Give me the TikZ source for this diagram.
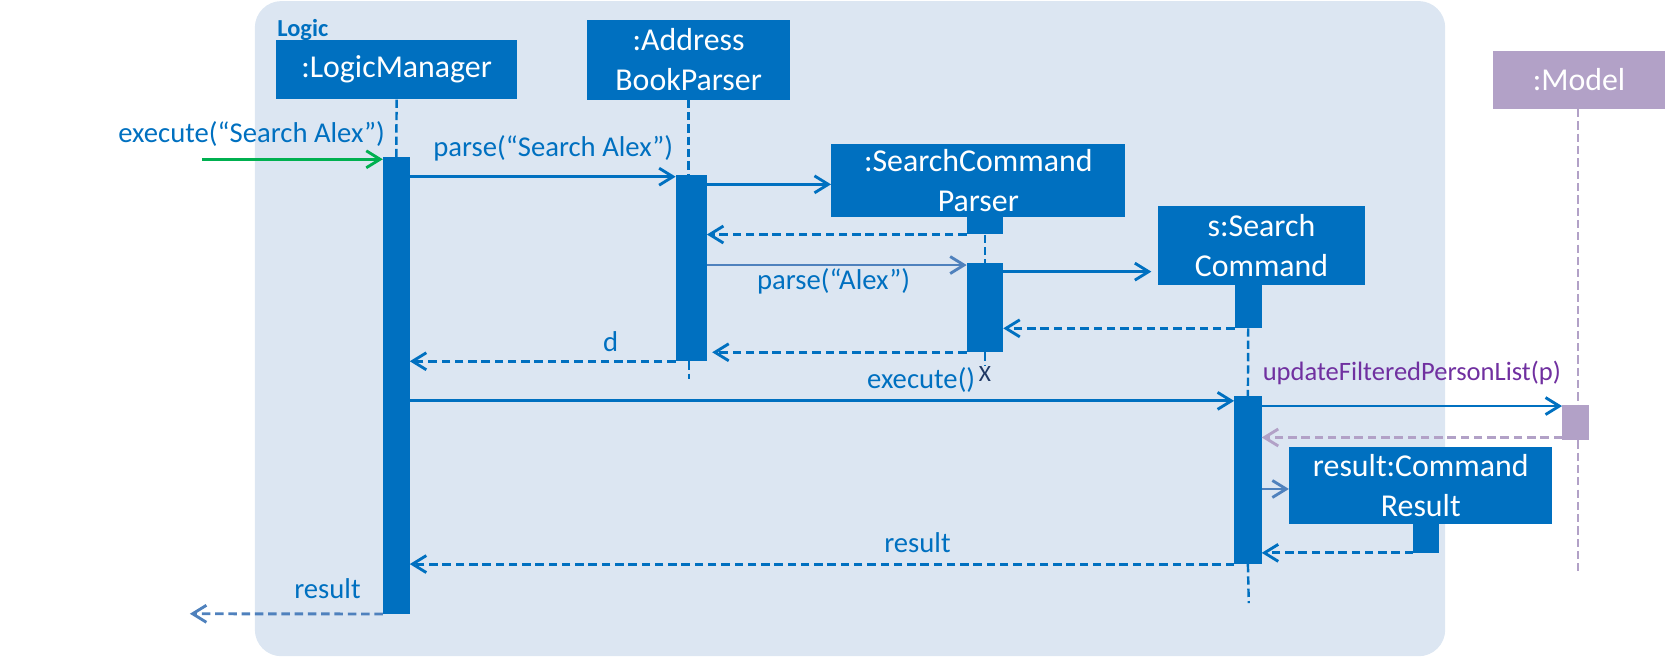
\documentclass[tikz,border=0pt]{standalone}
\usepackage{fontspec}
\setmainfont{Carlito}
\usetikzlibrary{arrows.meta}
\definecolor{lblue}{HTML}{0070C0}
\definecolor{gblue}{HTML}{4F81BD}
\definecolor{frameblue}{HTML}{DCE6F2}
\definecolor{mpurple}{HTML}{B2A1C7}
\definecolor{tpurple}{HTML}{7030A0}
\definecolor{callgreen}{HTML}{00B050}
\definecolor{xnavy}{HTML}{1F3864}

\begin{document}
\begin{tikzpicture}[x=1pt,y=-1pt,
    obj/.style={fill=lblue,text=white,inner sep=0pt,align=center,font=\fontsize{30}{37.4}\selectfont},
    act/.style={fill=lblue,inner sep=0pt},
    life/.style={draw=lblue,line width=2.3pt,dash pattern=on 7.8pt off 3.8pt},
    msg/.style={draw=lblue,line width=2.7pt,-{Straight Barb[length=13pt,width=16pt,line width=2.7pt]}},
    ret/.style={msg,dash pattern=on 8pt off 4.5pt},
    lbl/.style={text=lblue,inner sep=0pt,font=\fontsize{27}{32}\selectfont}]
    \useasboundingbox (0,0) rectangle (1568,619);

    % Logic frame
    \fill[frameblue,rounded corners=25pt] (240,1) rectangle (1361,618);
    \node[anchor=base west,text=lblue,inner sep=0pt,font=\bfseries\fontsize{23}{26}\selectfont] (logic) at (261,34) {Logic};

    % objects
    \node[obj,minimum width=227pt,minimum height=56pt] (lm) at (373.5,65.6) {:LogicManager};
    \node[obj,minimum width=191pt,minimum height=75pt] (abp) at (648.5,56.2) {:Address\\BookParser};
    \node[obj,minimum width=277pt,minimum height=68pt] (scp) at (921.3,170) {:SearchCommand\\Parser};
    \node[obj,minimum width=195pt,minimum height=74pt] (sc) at (1188,231.2) {s:Search\\Command};
    \node[obj,fill=mpurple,minimum width=162pt,minimum height=54.5pt] (model) at (1487,75.2) {:Model};
    \node[obj,minimum width=248pt,minimum height=72.6pt] (cr) at (1338,457.5) {result:Command\\Result};

    % activation bars
    \node[act,minimum width=25pt,minimum height=430pt] (lmAct) at (373.2,363) {};
    \node[act,minimum width=29pt,minimum height=175pt] (abpAct) at (651,252.5) {};
    \node[act,minimum width=34pt,minimum height=16.7pt] (scpTop) at (927.6,212.3) {};
    \node[act,minimum width=34pt,minimum height=83.5pt] (scpAct) at (927.6,289.8) {};
    \node[act,minimum width=25pt,minimum height=40.6pt] (scTop) at (1175.5,288.7) {};
    \node[act,minimum width=25.6pt,minimum height=158pt] (scAct) at (1175.2,452) {};
    \node[act,fill=mpurple,minimum width=24.7pt,minimum height=33pt] (modelAct) at (1483.6,397.9) {};
    \node[act,minimum width=24.4pt,minimum height=26.7pt] (crAct) at (1343.2,507.1) {};

    % lifelines
    \coordinate (abpEnd) at (649,357);
    \coordinate (scpEnd) at (927.6,345);
    \coordinate (scEnd) at (1176,568);
    \coordinate (modelEnd) at (1486,538);
    \draw[life] (lm.south) -- (lmAct.north);
    \draw[life] (abp.south) -- (abp.south |- abpAct.north) (abpEnd |- abpAct.south) -- (abpEnd);
    \draw[life] (scpTop.south) -- (scpAct.north) (scpAct.south) -- (scpEnd);
    \draw[life] (scTop.south) -- (scAct.north) (scAct.south) -- (scEnd);
    \draw[life,draw=mpurple] (modelEnd |- model.south) -- (modelEnd |- modelAct.north) (modelEnd |- modelAct.south) -- (modelEnd);
    \node[text=xnavy,inner sep=0pt,font=\fontsize{22}{22}\selectfont] (scpX) at (927.6,351.8) {X};

    % messages
    \coordinate (callStart) at (190,150);
    \draw[msg,draw=callgreen] (callStart) -- (lmAct.west |- callStart);
    \node[lbl,anchor=base east] (callLbl) at (362.6,134) {execute(“Search Alex”)};

    \draw[msg] (lmAct.east |- 0,166.4) -- (abpAct.west |- 0,166.4);
    \node[lbl,anchor=base] (parseLbl) at (521,147) {parse(“Search Alex”)};
    \draw[msg] (abpAct.east |- 0,173.6) -- (scp.west |- 0,173.6);
    \draw[ret] (scpTop.south west) -- (abpAct.east |- scpTop.south west);

    \draw[msg,draw=gblue] (abpAct.east |- 0,249.6) -- (scpAct.west |- 0,249.6);
    \node[lbl,anchor=base] (parseAlexLbl) at (785,273) {parse(“Alex”)};
    \draw[msg,shorten >=6pt] (scpAct.east |- 0,255.8) -- (sc.west |- 0,255.8);
    \draw[ret] (scTop.south west) -- (scpAct.east |- scTop.south west);
    \draw[ret,shorten >=5pt] (scpAct.south west) -- (abpAct.east |- scpAct.south west);
    \draw[ret] (abpAct.south west) -- (lmAct.east |- abpAct.south west);
    \node[lbl,anchor=base] (dLbl) at (575,331) {d};

    \draw[msg] (lmAct.east |- 0,377.5) -- (scAct.west |- 0,377.5);
    \node[lbl,anchor=base] (execLbl) at (867.5,365.5) {execute()};
    \draw[msg] (scAct.east |- 0,382.4) -- (modelAct.west |- 0,382.4);
    \node[lbl,anchor=base west,text=tpurple,font=\fontsize{25}{30}\selectfont] (updLbl) at (1189,358.5) {updateFilteredPersonList(p)};
    \draw[ret,draw=mpurple] (modelAct.west |- 0,412) -- (scAct.east |- 0,412);

    \draw[msg,draw=gblue] (scAct.east |- 0,460.5) -- (cr.west |- 0,460.5);
    \draw[ret] (crAct.south west) -- (scAct.east |- crAct.south west);
    \draw[ret] (scAct.south west) -- (lmAct.east |- scAct.south west);
    \node[lbl,anchor=base] (resLbl) at (864,520.5) {result};

    \coordinate (retEnd) at (178.8,578);
    \draw[ret,draw=gblue] (lmAct.south west) -- (retEnd);
    \node[lbl,anchor=base] (outLbl) at (308.4,564) {result};
\end{tikzpicture}
\end{document}
